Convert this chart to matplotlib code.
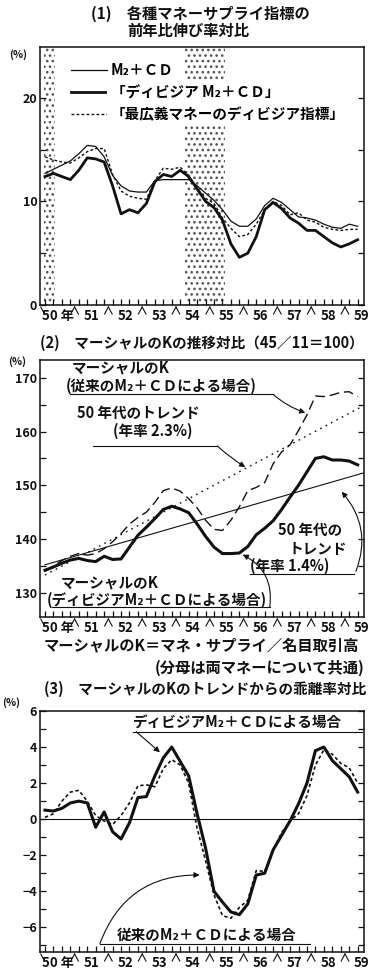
#!/usr/bin/env python3
"""Money supply vs Divisia indices: growth rates, Marshallian K and its trend deviation."""

import matplotlib
matplotlib.use("Agg")
import matplotlib.pyplot as plt
import matplotlib.lines as mlines
import numpy as np
from matplotlib.ticker import MultipleLocator

plt.rcParams["font.family"] = ["Noto Sans CJK JP", "DejaVu Sans"]
plt.rcParams["font.weight"] = "bold"
plt.rcParams["hatch.linewidth"] = 1.1

FIG_W, FIG_H = 382, 977          # output pixels at dpi=100
INK = "#111111"

# ── Data: quarterly, 50/I (index 0) … 59/II (index 37) ───────────────────────
YEARS = list(range(50, 60))
YEAR_LABELS = ["50 年"] + [str(y) for y in YEARS[1:]]
QUARTER = np.arange(38)

# (1) year-on-year growth, %
growth_m2cd = [12.7, 13.1, 13.5, 13.9, 14.6, 15.4, 15.3, 14.3, 12.5, 11.5,
               11.0, 10.9, 10.9, 12.0, 12.1, 12.1, 12.1, 12.1, 11.5, 10.8,
               10.1, 9.2, 8.1, 7.6, 7.6, 8.3, 9.6, 10.3, 9.9, 9.2,
               8.5, 8.4, 8.2, 7.8, 7.5, 7.4, 7.8, 7.6]
growth_divisia_m2cd = [12.4, 12.7, 12.4, 12.1, 13.0, 14.2, 14.1, 13.8, 11.5, 8.8,
                       9.2, 8.9, 9.8, 11.9, 12.6, 12.4, 13.0, 12.4, 11.2, 10.0,
                       9.4, 8.2, 5.9, 4.6, 5.0, 6.6, 9.2, 9.9, 9.3, 8.4,
                       7.9, 7.2, 7.2, 6.6, 6.0, 5.6, 5.9, 6.3]
growth_divisia_broad = [14.3, 14.0, 13.8, 13.7, 14.2, 14.8, 15.1, 15.1, 12.6, 11.0,
                        10.5, 10.3, 10.2, 12.0, 13.2, 13.1, 13.3, 12.5, 11.2, 10.3,
                        9.8, 8.4, 7.4, 6.6, 6.8, 7.8, 9.2, 10.0, 9.6, 8.7,
                        8.9, 8.2, 8.0, 7.5, 7.3, 7.2, 7.3, 7.3]
RECESSIONS = [(-0.1, 1.15), (16.6, 21.3)]

# (2) Marshallian K, 45/11 = 100
k_m2cd = [134.0, 135.0, 136.0, 136.8, 137.3, 137.0, 137.3, 138.2, 139.5, 141.0,
          142.8, 144.0, 145.0, 146.8, 149.0, 149.5, 148.9, 147.5, 145.8, 143.5,
          141.8, 141.6, 143.5, 146.0, 149.0, 149.6, 150.5, 154.0, 156.2, 157.5,
          160.2, 163.1, 166.6, 166.5, 166.8, 167.3, 167.4, 166.5]
k_divisia = [134.2, 134.8, 135.5, 136.1, 136.4, 136.0, 135.8, 136.8, 136.2, 136.3,
             138.5, 140.7, 142.2, 143.8, 145.5, 146.1, 145.6, 144.9, 142.8, 140.5,
             138.5, 137.3, 137.3, 137.4, 138.6, 140.8, 142.0, 143.4, 145.5, 147.8,
             150.0, 152.5, 155.0, 155.3, 154.7, 154.7, 154.5, 153.8]
TREND_Q = [0.0, 37.7]
trend_k_m2cd = [133.3, 164.8]       # 2.3% a year
trend_k_divisia = [135.2, 152.3]    # 1.4% a year

# (3) deviation of K from its trend, %
dev_divisia = [0.5, 0.45, 0.6, 0.9, 1.0, 0.9, -0.45, 0.4, -0.7, -1.1,
               -0.2, 1.2, 1.25, 2.4, 3.4, 4.0, 3.2, 2.4, 0.3, -1.6,
               -4.0, -4.6, -5.15, -5.3, -4.7, -3.1, -3.0, -1.7, -0.9, -0.1,
               0.85, 2.0, 3.8, 4.0, 3.25, 2.8, 2.35, 1.5]
dev_m2cd = [0.1, 0.3, 1.0, 1.5, 1.6, 1.0, 0.2, -0.1, -0.3, 0.2,
            0.9, 1.85, 1.9, 1.8, 2.8, 3.3, 3.0, 2.0, -0.5, -2.3,
            -4.2, -5.35, -5.5, -4.9, -4.5, -2.85, -2.9, -1.7, -0.75, -0.1,
            0.3, 1.3, 3.0, 3.85, 3.6, 3.1, 2.85, 2.0]


# ── Helpers ──────────────────────────────────────────────────────────────────
def px_rect(left, top, right, bottom):
    return [left / FIG_W, 1 - bottom / FIG_H, (right - left) / FIG_W, (bottom - top) / FIG_H]


def fig_text(fig, x, y, s, size=10.5, ha="left"):
    fig.text(x / FIG_W, 1 - y / FIG_H, s, color=INK, fontsize=size, ha=ha, va="center")


def year_carets(ax):
    # the "/\" marks under the axis that bracket each year
    h = ax.get_position().height * FIG_H
    tr = ax.get_xaxis_transform()
    top, bot = -2.0 / h, -9.0 / h
    kw = dict(transform=tr, color=INK, lw=0.8, clip_on=False)
    for k in range(len(YEARS)):
        b = 4 * k - 0.5
        if k:
            ax.plot([b - 0.45, b], [bot, top], **kw)
        ax.plot([b, b + 0.45], [top, bot], **kw)


def style_axes(ax, ylim, major, minor):
    ax.set_xlim(-0.59, 37.75)
    ax.set_ylim(*ylim)
    ax.yaxis.set_major_locator(MultipleLocator(major))
    ax.yaxis.set_minor_locator(MultipleLocator(minor))
    ax.tick_params(axis="y", which="both", direction="in", left=True, right=True,
                   length=4, width=0.9, labelsize=9, pad=2, colors=INK)
    ax.set_xticks([4 * k + 1.5 for k in range(len(YEARS))])
    ax.set_xticklabels(YEAR_LABELS)
    ax.set_xticks(QUARTER, minor=True)
    ax.tick_params(axis="x", which="major", length=0, labelsize=9.5, pad=3, colors=INK)
    ax.tick_params(axis="x", which="minor", direction="in", length=4, width=0.9, colors=INK)
    for sp in ax.spines.values():
        sp.set_linewidth(1.1)
        sp.set_color(INK)
    year_carets(ax)


def note(ax, x, y, s, size=10.5, ha="left"):
    ax.text(x, y, s, fontsize=size, ha=ha, va="center", color=INK)


def underline(ax, x0, x1, y):
    ax.plot([x0, x1], [y, y], color=INK, lw=0.8, clip_on=False)


def pointer(ax, start, end, rad=0.0):
    ax.annotate("", xy=end, xytext=start,
                arrowprops=dict(arrowstyle="-|>", color=INK, lw=0.8, mutation_scale=8,
                                shrinkA=0, shrinkB=0, connectionstyle=f"arc3,rad={rad}"))


fig = plt.figure(figsize=(FIG_W / 100, FIG_H / 100), dpi=100)
fig.patch.set_facecolor("white")

# ── (1) growth rates ─────────────────────────────────────────────────────────
fig_text(fig, 200, 14, "(1)　各種マネーサプライ指標の", size=11, ha="center")
fig_text(fig, 188, 31, "前年比伸び率対比", size=11, ha="center")
fig_text(fig, 18, 55, "(%)", size=7.5, ha="center")

ax1 = fig.add_axes(px_rect(40, 47, 364, 305))
style_axes(ax1, (0, 24.9), 10, 5)
for a, b in RECESSIONS:
    ax1.axvspan(a, b, facecolor="white", edgecolor="#555555", hatch="...", lw=0, zorder=0)

ax1.plot(QUARTER, growth_m2cd, color=INK, lw=0.9, zorder=3)
ax1.plot(QUARTER, growth_divisia_m2cd, color=INK, lw=2.0, zorder=3)
ax1.plot(QUARTER, growth_divisia_broad, color=INK, lw=1.0, dashes=(2, 1.6), zorder=3)

handles = [
    mlines.Line2D([], [], color=INK, lw=0.9),
    mlines.Line2D([], [], color=INK, lw=2.0),
    mlines.Line2D([], [], color=INK, lw=1.0, dashes=(2, 1.6)),
]
labels = ["M₂＋ＣＤ", "「ディビジア M₂＋ＣＤ」", "「最広義マネーのディビジア指標」"]
leg = ax1.legend(handles, labels, loc="upper left", bbox_to_anchor=(0.095, 0.94),
                 frameon=False, fontsize=10.5, handlelength=2.5, handletextpad=0.25,
                 labelspacing=0.4, borderaxespad=0, borderpad=0)
leg.set_zorder(5)
for t in leg.get_texts()[1:]:
    t.set_bbox(dict(facecolor="white", edgecolor="none", pad=2.5))

# ── (2) Marshallian K ────────────────────────────────────────────────────────
fig_text(fig, 40, 343, "(2)　マーシャルのKの推移対比（45／11＝100）", size=10.5)
fig_text(fig, 17, 362, "(%)", size=7.5, ha="center")

ax2 = fig.add_axes(px_rect(40, 360, 364, 617))
style_axes(ax2, (125.5, 173.3), 10, 5)
ax2.plot(QUARTER, k_m2cd, color=INK, lw=1.0, dashes=(7, 3.5), zorder=3)
ax2.plot(QUARTER, k_divisia, color=INK, lw=2.2, zorder=3)
ax2.plot(TREND_Q, trend_k_m2cd, color=INK, lw=1.0, dashes=(1.2, 3.2), zorder=2)
ax2.plot(TREND_Q, trend_k_divisia, color=INK, lw=0.8, zorder=2)

note(ax2, 3.2, 172.0, "マーシャルのK")
note(ax2, 2.4, 168.5, "(従来のM₂＋ＣＤによる場合)")
underline(ax2, 3.0, 27.0, 166.9)
pointer(ax2, (27.0, 166.9), (30.8, 163.5), rad=0.1)

note(ax2, 3.8, 163.5, "50 年代のトレンド")
note(ax2, 8.0, 160.1, "(年率 2.3%)")
underline(ax2, 5.7, 20.4, 157.3)
pointer(ax2, (20.4, 157.3), (23.7, 153.4), rad=0.05)

note(ax2, 27.6, 141.7, "50 年代の")
note(ax2, 28.8, 138.2, "トレンド")
note(ax2, 24.3, 135.0, "(年率 1.4%)")
underline(ax2, 24.3, 36.6, 133.5)
pointer(ax2, (36.8, 134.0), (35.1, 148.8), rad=0.3)

note(ax2, 1.8, 131.9, "マーシャルのK")
note(ax2, 0.2, 128.7, "(ディビジアM₂＋ＣＤによる場合)")
underline(ax2, 0.8, 26.6, 127.4)
pointer(ax2, (26.6, 127.4), (23.4, 137.1), rad=0.35)

fig_text(fig, 201, 645, "マーシャルのK＝マネ・サプライ／名目取引高", size=11, ha="center")
fig_text(fig, 365, 668, "(分母は両マネーについて共通)", size=11, ha="right")

# ── (3) deviation from trend ─────────────────────────────────────────────────
fig_text(fig, 44, 689, "(3)　マーシャルのKのトレンドからの乖離率対比", size=10.5)
fig_text(fig, 11, 703, "(%)", size=7.5, ha="center")

ax3 = fig.add_axes(px_rect(40, 711, 364, 952))
style_axes(ax3, (-7.37, 6.0), 2, 1)
ax3.axhline(0, color=INK, lw=0.8, zorder=1)
ax3.plot(QUARTER, dev_divisia, color=INK, lw=2.2, zorder=3)
ax3.plot(QUARTER, dev_m2cd, color=INK, lw=1.2, dashes=(2, 1.6), zorder=3)

note(ax3, 10.4, 5.38, "ディビジアM₂＋ＣＤによる場合")
underline(ax3, 10.4, 37.5, 4.85)
pointer(ax3, (10.8, 4.85), (13.6, 3.71))

note(ax3, 8.5, -6.4, "従来のM₂＋ＣＤによる場合")
underline(ax3, 6.5, 31.4, -6.9)
pointer(ax3, (6.5, -6.9), (18.3, -3.1), rad=-0.35)

fig.savefig("out.png", dpi=100, facecolor="white")
